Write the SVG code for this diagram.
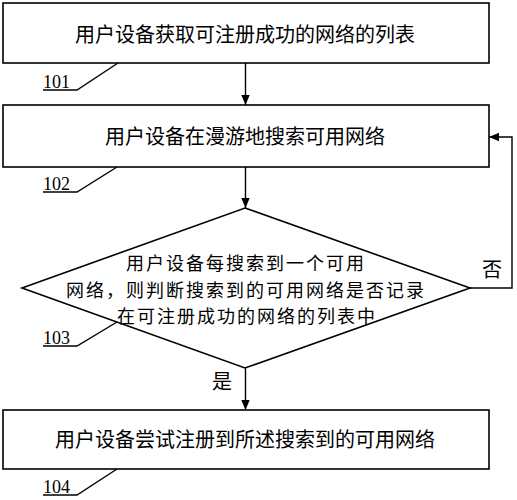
<svg xmlns="http://www.w3.org/2000/svg" width="517" height="500" viewBox="0 0 517 500">
<style>
.box{fill:#fff;stroke:#000;stroke-width:1.6}
.ln{fill:none;stroke:#000;stroke-width:1.4}
.t{font-family:"Noto Sans CJK SC","Noto Sans",sans-serif;font-size:20px;fill:#000}
.d{font-family:"Noto Sans CJK SC","Noto Sans",sans-serif;font-size:18px;letter-spacing:2px;fill:#000}
.n{font-family:"Liberation Serif",serif;font-size:18px;fill:#000}
</style>
<defs>
<marker id="ah" markerWidth="10" markerHeight="10" refX="10" refY="5" orient="auto" markerUnits="userSpaceOnUse">
<path d="M0,0.8 L10,5 L0,9.2 Z" fill="#000"/>
</marker>
</defs>
<rect width="517" height="500" fill="#fff"/>
<g id="n101">
<rect class="box" x="3" y="3" width="486" height="60"/>
<text class="t" x="245" y="41.5" text-anchor="middle">用户设备获取可注册成功的网络的列表</text>
<text class="n" x="43" y="88">101</text>
<polyline class="ln" points="43,90 77,90 118,63"/>
</g>
<g id="n102">
<rect class="box" x="3" y="105" width="486" height="62"/>
<text class="t" x="245" y="143.5" text-anchor="middle">用户设备在漫游地搜索可用网络</text>
<text class="n" x="43" y="190">102</text>
<polyline class="ln" points="43,192 77,192 117,167"/>
</g>
<g id="n103">
<polygon class="box" points="245,208 470,288 245,368 22,288"/>
<text class="d" x="246" y="270" text-anchor="middle">用户设备每搜索到一个可用</text>
<text class="d" x="246" y="296.5" text-anchor="middle">网络，则判断搜索到的可用网络是否记录</text>
<text class="d" x="247" y="323" text-anchor="middle">在可注册成功的网络的列表中</text>
<text class="n" x="43" y="344">103</text>
<polyline class="ln" points="43,346 77,346 117,322"/>
</g>
<g id="n104">
<rect class="box" x="3" y="410" width="486" height="59"/>
<text class="t" x="245" y="447" text-anchor="middle">用户设备尝试注册到所述搜索到的可用网络</text>
<text class="n" x="43" y="493">104</text>
<polyline class="ln" points="43,495 77,495 117,469"/>
</g>
<g id="connectors">
<line class="ln" x1="245.5" y1="63" x2="245.5" y2="105" marker-end="url(#ah)"/>
<line class="ln" x1="245.5" y1="167" x2="245.5" y2="208" marker-end="url(#ah)"/>
<line class="ln" x1="245.5" y1="368" x2="245.5" y2="410" marker-end="url(#ah)"/>
<polyline class="ln" points="470,288 512,288 512,137 489,137" marker-end="url(#ah)"/>
<text class="t" x="492" y="277" text-anchor="middle">否</text>
<text class="t" x="222" y="389" text-anchor="middle">是</text>
</g>
</svg>
